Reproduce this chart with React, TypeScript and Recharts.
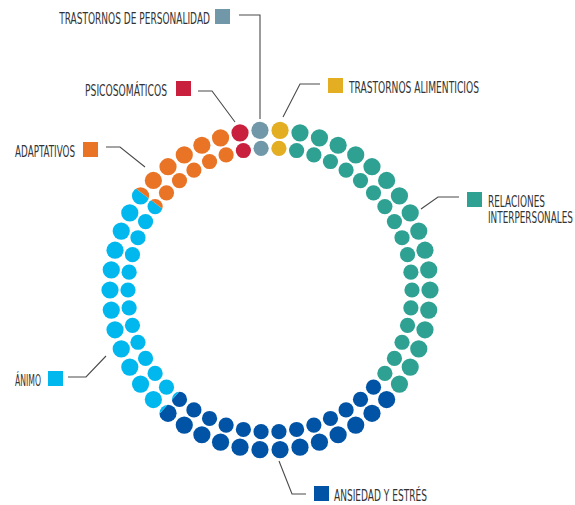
import { useLayoutEffect, useRef, useState } from 'react'
import { PieChart, Pie } from 'recharts'

// categories in clockwise order, starting at 12 o'clock
const categories = [
  'TRASTORNOS ALIMENTICIOS',
  'RELACIONES INTERPERSONALES',
  'ANSIEDAD Y ESTRÉS',
  'ÁNIMO',
  'ADAPTATIVOS',
  'PSICOSOMÁTICOS',
  'TRASTORNOS DE PERSONALIDAD',
]
const shares = [2, 34, 25.6, 23.7, 10.7, 2, 2]
const colors = ['#E3AE22', '#2EA193', '#0053A5', '#00B8EE', '#E97425', '#C8203D', '#7198A9']
const labelLines = [
  ['TRASTORNOS ALIMENTICIOS'],
  ['RELACIONES', 'INTERPERSONALES'],
  ['ANSIEDAD Y ESTRÉS'],
  ['ÁNIMO'],
  ['ADAPTATIVOS'],
  ['PSICOSOMÁTICOS'],
  ['TRASTORNOS DE PERSONALIDAD'],
]

// each slot holds two dots (outer + inner ring) and stands for 2%
const DOT_SLOTS = 50
const SLOT_SHARE = 100 / DOT_SLOTS
const slots = Array.from({ length: DOT_SLOTS }, (_, i) => ({ slot: i, value: 1 }))

// legend layout: square corner, text side, text widths, leader line
const layout = [
  { sq: [328, 78], tx: 349, anchor: 'start', widths: [130], line: [[320, 84], [300, 84], [283, 117]] },
  { sq: [467, 192], tx: 488, anchor: 'start', widths: [57, 85], line: [[459, 197], [438, 197], [421, 209]] },
  { sq: [314, 486], tx: 334, anchor: 'start', widths: [93], line: [[306, 494], [292, 494], [279, 461]] },
  { sq: [48, 371], tx: 41, anchor: 'end', widths: [26], line: [[68, 377], [86, 377], [106, 356]] },
  { sq: [83, 142], tx: 75, anchor: 'end', widths: [60], line: [[106, 147], [120, 147], [145, 167]] },
  { sq: [176, 81], tx: 167, anchor: 'end', widths: [82], line: [[198, 91], [212, 91], [235, 122]] },
  { sq: [215, 9], tx: 210, anchor: 'end', widths: [151], line: [[239, 15], [260, 15], [260, 119]] },
]

const OUTER_DOT = 8.6
const INNER_DOT = 7.6
const RAD = Math.PI / 180

const toXY = (cx: number, cy: number, r: number, deg: number) => ({
  x: cx + r * Math.cos(-deg * RAD),
  y: cy + r * Math.sin(-deg * RAD),
})

const renderDots = (props: any) => {
  const { cx, cy, innerRadius, outerRadius, startAngle, endAngle, midAngle, index } = props
  const pStart = index * SLOT_SHARE
  const pEnd = pStart + SLOT_SHARE
  const angleAt = (p: number) => startAngle + ((endAngle - startAngle) * (p - pStart)) / SLOT_SHARE
  const outer = toXY(cx, cy, outerRadius, midAngle)
  const inner = toXY(cx, cy, innerRadius, midAngle)

  // which categories fall into this slot
  const parts: { k: number; a: number; b: number }[] = []
  let acc = 0
  shares.forEach((s, k) => {
    const a = Math.max(acc, pStart)
    const b = Math.min(acc + s, pEnd)
    acc += s
    if (b - a > 1e-6) parts.push({ k, a, b })
  })

  return (
    <g key={`dots-${index}`}>
      {parts.map(({ k, a, b }) => {
        const full = b - a > SLOT_SHARE - 1e-6
        const id = `slot-${index}-${k}`
        const pts = [a, (a + b) / 2, b]
          .map((p) => toXY(cx, cy, 230, angleAt(p)))
          .map((pt) => `${pt.x},${pt.y}`)
        return (
          <g key={id} clipPath={full ? undefined : `url(#${id})`}>
            {!full && (
              <defs>
                <clipPath id={id}>
                  <polygon points={`${cx},${cy} ${pts.join(' ')}`} />
                </clipPath>
              </defs>
            )}
            <circle cx={outer.x} cy={outer.y} r={OUTER_DOT} fill={colors[k]} />
            <circle cx={inner.x} cy={inner.y} r={INNER_DOT} fill={colors[k]} />
          </g>
        )
      })}
    </g>
  )
}

const font = "'Liberation Sans Narrow', 'DejaVu Sans Condensed', 'Roboto', sans-serif"

// squeeze a label horizontally so it takes the width seen in the reference
function FitText({ x, y, width, anchor, text }: { x: number; y: number; width: number; anchor: any; text: string }) {
  const ref = useRef<SVGTextElement>(null)
  const [sx, setSx] = useState(1)
  useLayoutEffect(() => {
    if (ref.current) setSx(width / ref.current.getComputedTextLength())
  }, [width, text])
  return (
    <text
      ref={ref}
      transform={`translate(${x},${y}) scale(${sx},1)`}
      textAnchor={anchor}
      fontFamily={font}
      fontSize={15}
      fill="#333"
    >
      {text}
    </text>
  )
}

export default function App() {
  return (
    <div style={{ position: 'absolute', left: 0, top: 0, width: 575, height: 505, background: '#fff' }}>
      <PieChart width={575} height={505} margin={{ top: 0, right: 0, bottom: 0, left: 0 }}>
        <Pie
          data={slots}
          dataKey="value"
          cx={270}
          cy={290}
          innerRadius={142}
          outerRadius={160}
          startAngle={90}
          endAngle={-270}
          fill="none"
          stroke="none"
          label={renderDots}
          labelLine={false}
          isAnimationActive={false}
        />
        {categories.map((name, i) => {
          const l = layout[i]
          return (
            <g key={name}>
              <polyline
                points={l.line.map((p) => p.join(',')).join(' ')}
                fill="none"
                stroke="#4a4a4a"
                strokeWidth={1.1}
              />
              <rect x={l.sq[0]} y={l.sq[1]} width={15} height={15} fill={colors[i]} />
              {labelLines[i].map((t, j) => (
                <FitText
                  key={t}
                  x={l.tx}
                  y={l.sq[1] + 15 + j * 16}
                  width={l.widths[j]}
                  anchor={l.anchor}
                  text={t}
                />
              ))}
            </g>
          )
        })}
      </PieChart>
    </div>
  )
}
